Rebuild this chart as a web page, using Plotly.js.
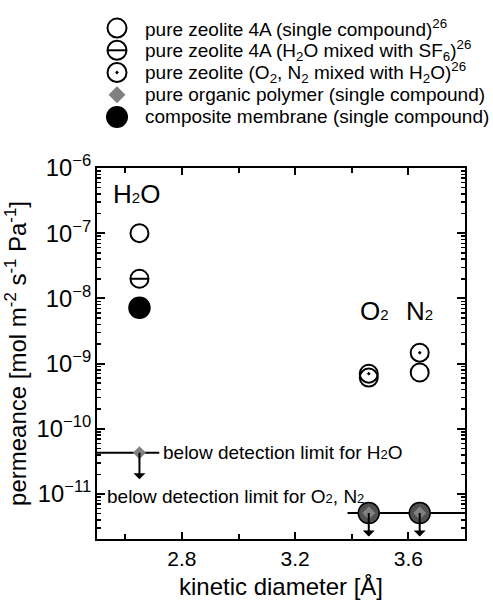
<!DOCTYPE html>
<html>
<head>
<meta charset="utf-8">
<script src="https://cdn.plot.ly/plotly-3.0.1.min.js"></script>
<style>html,body{margin:0;padding:0;background:#fff;}#chart{width:493px;height:600px;}</style>
</head>
<body>
<div id="chart"></div>
<script>
// ---- data ----
const speciesLabels = ['H<span style="font-size:15px">2</span>O', 'O<span style="font-size:15px">2</span>', 'N<span style="font-size:15px">2</span>'];
const kineticDiameter = [2.65, 3.46, 3.64];          // Å
const zeoliteSingle = [1.0e-7, 6.1e-10, 7.3e-10];     // pure zeolite 4A, single compound
const zeoliteH2OmixSF6 = [2.0e-8, null, null];        // pure zeolite 4A, H2O mixed with SF6
const zeoliteGasMixH2O = [null, 7.0e-10, 1.47e-9];    // pure zeolite, O2/N2 mixed with H2O
const polymerSingle = [4.3e-11, 5.1e-12, 5.1e-12];    // pure organic polymer (detection limit)
const compositeSingle = [7.2e-9, 5.1e-12, 5.1e-12];   // composite membrane
const h2oLimitX = [2.5, 2.72];
const h2oLimitY = [4.3e-11, 4.3e-11];
const gasLimitX = [3.385, 3.8];
const gasLimitY = [5.1e-12, 5.1e-12];
const legendLabels = [
  'pure zeolite 4A (single compound)<sup>26</sup>',
  'pure zeolite 4A (H<sub>2</sub>O mixed with SF<sub>6</sub>)<sup>26</sup>',
  'pure zeolite (O<sub>2</sub>, N<sub>2</sub> mixed with H<sub>2</sub>O)<sup>26</sup>',
  'pure organic polymer (single compound)',
  'composite membrane (single compound)'
];
const xTitle = 'kinetic diameter [Å]';
const yTitle = 'permeance [mol m<sup>-2</sup> s<sup>-1</sup> Pa<sup>-1</sup>]';
const limitTextH2O = 'below detection limit for H<span style="font-size:13px">2</span>O';
const limitTextGas = 'below detection limit for O<span style="font-size:13px">2</span>, N<span style="font-size:13px">2</span>';

// ---- styles ----
const FONT = 'Liberation Sans, Arial, sans-serif';
const black = '#000';
const polyGray = '#808080';
const compositeColors = ['#000', '#505050', '#505050'];

const traces = [];
// detection limit lines
traces.push({x: h2oLimitX, y: h2oLimitY, mode: 'lines', line: {color: black, width: 2}, hoverinfo: 'skip'});
traces.push({x: gasLimitX, y: gasLimitY, mode: 'lines', line: {color: black, width: 2}, hoverinfo: 'skip'});
// composite
traces.push({x: kineticDiameter, y: compositeSingle, mode: 'markers',
  marker: {symbol: 'circle', size: 21, color: compositeColors, line: {color: black, width: 1.5}}});
// polymer
traces.push({x: kineticDiameter, y: polymerSingle, mode: 'markers',
  marker: {symbol: 'diamond', size: 10, color: polyGray, line: {width: 0}}});
// zeolite single
traces.push({x: kineticDiameter, y: zeoliteSingle, mode: 'markers',
  marker: {symbol: 'circle-open', size: 18, color: black, line: {color: black, width: 2}}});
// zeolite H2O mixed with SF6 (theta)
traces.push({x: kineticDiameter, y: zeoliteH2OmixSF6, mode: 'markers',
  marker: {symbol: 'circle-open', size: 18, color: black, line: {color: black, width: 2}}});
traces.push({x: kineticDiameter, y: zeoliteH2OmixSF6, mode: 'markers',
  marker: {symbol: 'line-ew-open', size: 13, color: black, line: {color: black, width: 2}}});
// zeolite gas mixed with H2O (dot)
traces.push({x: kineticDiameter, y: zeoliteGasMixH2O, mode: 'markers',
  marker: {symbol: 'circle-open-dot', size: 18, color: black, line: {color: black, width: 2}}});

// legend (custom, on helper axes)
const legendIdx = legendLabels.map((_, i) => i);
const legendSymbolX = 20;
const legendTextX = 46;
const legendStyles = [
  [{symbol: 'circle-open', size: 19, color: black, line: {color: black, width: 2}}],
  [{symbol: 'circle-open', size: 19, color: black, line: {color: black, width: 2}},
   {symbol: 'line-ew-open', size: 14, color: black, line: {color: black, width: 2}}],
  [{symbol: 'circle-open-dot', size: 19, color: black, line: {color: black, width: 2}}],
  [{symbol: 'diamond', size: 13, color: polyGray, line: {width: 0}}],
  [{symbol: 'circle', size: 22, color: black, line: {width: 0}}]
];
legendIdx.forEach(i => {
  legendStyles[i].forEach(m => {
    traces.push({x: [legendSymbolX], y: [i], xaxis: 'x2', yaxis: 'y2', mode: 'markers', marker: m, hoverinfo: 'skip'});
  });
});
traces.forEach(t => t.showlegend = false);

const annotations = [];
legendIdx.forEach(i => {
  annotations.push({xref: 'x2', yref: 'y2', x: legendTextX, y: i, text: legendLabels[i],
    xanchor: 'left', yanchor: 'middle', showarrow: false, font: {family: FONT, size: 19, color: black}});
});
// species labels
const labelShift = [[-3, -26], [6, -143], [0, -143]];
speciesLabels.forEach((s, i) => {
  annotations.push({xref: 'x', yref: 'y domain', x: kineticDiameter[i], y: 1, xshift: labelShift[i][0], yshift: labelShift[i][1],
    text: s, showarrow: false, xanchor: 'center', yanchor: 'middle', font: {family: FONT, size: 26, color: black}});
});
// arrows below detection limits
const arrowLen = [28, 25, 25];
kineticDiameter.forEach((xv, i) => {
  annotations.push({xref: 'x', yref: 'y', x: xv, y: Math.log10(polymerSingle[i]), text: '', showarrow: true,
    ax: 0, ay: arrowLen[i], arrowside: 'start', arrowhead: 4, arrowsize: 1.5, arrowwidth: 2, arrowcolor: black});
});
annotations.push({xref: 'x', yref: 'y', x: h2oLimitX[1], y: Math.log10(h2oLimitY[1]), xshift: 2, text: limitTextH2O,
  showarrow: false, xanchor: 'left', yanchor: 'middle', font: {family: FONT, size: 19, color: black}});
annotations.push({xref: 'x domain', yref: 'y', x: 0, y: Math.log10(gasLimitY[0]), xshift: 8, yshift: 17, text: limitTextGas,
  showarrow: false, xanchor: 'left', yanchor: 'middle', font: {family: FONT, size: 19, color: black}});

const layout = {
  width: 493, height: 600,
  margin: {l: 97, r: 28, t: 0, b: 61, pad: 0},
  paper_bgcolor: '#fff', plot_bgcolor: '#fff',
  font: {family: FONT, color: black},
  showlegend: false,
  xaxis: {
    domain: [0, 1], anchor: 'y', range: [2.5, 3.8],
    tick0: 2.8, dtick: 0.4, ticks: 'inside', ticklen: 7, tickwidth: 2, tickcolor: black,
    minor: {tick0: 2.6, dtick: 0.2, ticks: 'inside', ticklen: 5, tickwidth: 2, tickcolor: black},
    showline: true, linewidth: 2, linecolor: black, mirror: 'allticks',
    showgrid: false, zeroline: false,
    tickfont: {family: FONT, size: 21, color: black},
    title: {text: xTitle, font: {family: FONT, size: 24, color: black}, standoff: 12}
  },
  yaxis: {
    domain: [0, 0.6883], anchor: 'x', type: 'log', range: [-11.69, -6],
    dtick: 1, exponentformat: 'power', ticks: 'inside', ticklen: 8, tickwidth: 2, tickcolor: black,
    minor: {dtick: 'D1', ticks: 'inside', ticklen: 4, tickwidth: 1.5, tickcolor: black},
    showline: true, linewidth: 2, linecolor: black, mirror: 'allticks',
    showgrid: false, zeroline: false,
    tickfont: {family: FONT, size: 19, color: black},
    title: {text: yTitle, font: {family: FONT, size: 24, color: black}, standoff: 3}
  },
  xaxis2: {domain: [0, 1], anchor: 'y2', range: [0, 368], visible: false, fixedrange: true},
  yaxis2: {domain: [0.7625, 0.9685], anchor: 'x2', range: [4.5, -0.5], visible: false, fixedrange: true},
  annotations: annotations
};

Plotly.newPlot('chart', traces, layout, {displayModeBar: false, staticPlot: true});
</script>
</body>
</html>
